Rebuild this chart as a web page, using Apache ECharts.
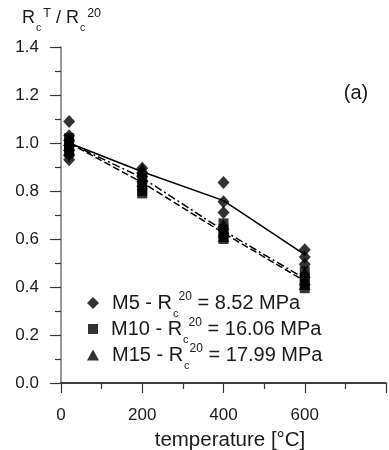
<!DOCTYPE html>
<html><head><meta charset="utf-8">
<script src="https://cdn.jsdelivr.net/npm/echarts@6/dist/echarts.min.js"></script>
<style>html,body{margin:0;padding:0;background:#fff}#c{width:389px;height:450px}</style>
</head><body><div id="c"></div>
<script>
const temperatures = [20, 200, 400, 600];
const m5Values = [[1.09, 1.03, 1.01, 0.99, 0.97, 0.95, 0.93], [0.895, 0.875, 0.86], [0.835, 0.755, 0.71], [0.555, 0.525, 0.495]];
const m10Values = [[1.02, 1.0, 0.98, 0.96], [0.85, 0.82, 0.80, 0.79], [0.665, 0.64, 0.62, 0.60], [0.465, 0.44, 0.415, 0.395]];
const m15Values = [[1.01, 0.99, 0.97], [0.895, 0.86, 0.84], [0.66, 0.63, 0.61], [0.46, 0.43, 0.41]];
const m5Mean = [1.0, 0.88, 0.76, 0.535];
const m10Mean = [1.0, 0.835, 0.625, 0.425];
const m15Mean = [1.0, 0.855, 0.635, 0.435];
const seriesNames = ['M5', 'M10', 'M15'];
const strengths = ['8.52', '16.06', '17.99'];
const xTickLabels = [0, 200, 400, 600];
const yTickLabels = ['0.0', '0.2', '0.4', '0.6', '0.8', '1.0', '1.2', '1.4'];

const FONT = 'Liberation Sans, Arial, sans-serif';
const TXT = '#1a1a1a';

function pts(values) {
  const out = [];
  values.forEach((arr, i) => arr.forEach(v => out.push([temperatures[i], v])));
  return out;
}
function line(means) { return means.map((v, i) => [temperatures[i], v]); }

const legendRich = {
  f: { fontSize: 20, fontFamily: FONT, color: TXT, lineHeight: 32, padding: [0, 0, 0, 8] },
  b: { fontSize: 20, fontFamily: FONT, color: TXT, lineHeight: 32 },
  sub: { fontSize: 11, fontFamily: FONT, color: TXT, verticalAlign: 'bottom', padding: [0, 0, 0, 1] },
  sup: { fontSize: 12, fontFamily: FONT, color: TXT, verticalAlign: 'top', padding: [4, 0, 0, 0] }
};
const icons = ['diamond', 'rect', 'triangle'];
const iconSize = [[12, 12], [10, 10], [12, 11]];
const legendTops = [286, 312, 338];

const chart = echarts.init(document.getElementById('c'));
chart.setOption({
  animation: false,
  backgroundColor: '#fff',
  grid: { left: 61, top: 47, right: -56, bottom: 67 },
  xAxis: [{
    type: 'value', min: 0, max: 800, interval: 200,
    axisLine: { show: true, onZero: false, lineStyle: { color: '#333', width: 1.5 } },
    axisTick: { show: true, length: 10, lineStyle: { color: '#333', width: 1.2 } },
    minorTick: { show: true, splitNumber: 2, length: 6, lineStyle: { color: '#333', width: 1.2 } },
    splitLine: { show: false },
    axisLabel: { margin: 24, fontSize: 17, fontFamily: FONT, color: TXT,
      formatter: v => xTickLabels.indexOf(v) >= 0 ? String(v) : '' }
  }, {
    type: 'value', min: 0, max: 800, position: 'top',
    axisLine: { show: true, lineStyle: { color: '#333', width: 1.5 } },
    axisTick: { show: false }, axisLabel: { show: false }, splitLine: { show: false }
  }],
  yAxis: {
    type: 'value', min: 0, max: 1.4, interval: 0.2,
    axisLine: { show: true, lineStyle: { color: '#777', width: 1.5 } },
    axisTick: { show: true, length: 11, lineStyle: { color: '#333', width: 1.2 } },
    minorTick: { show: true, splitNumber: 2, length: 6, lineStyle: { color: '#333', width: 1.2 } },
    splitLine: { show: false },
    axisLabel: { margin: 22, fontSize: 17, fontFamily: FONT, color: TXT,
      formatter: v => yTickLabels[Math.round(v / 0.2)] }
  },
  legend: seriesNames.map((n, i) => ({
    data: [n], left: 88 - iconSize[i][0] / 2, top: legendTops[i],
    orient: 'vertical', icon: icons[i],
    itemWidth: iconSize[i][0], itemHeight: iconSize[i][1],
    itemStyle: { color: '#000' },
    textStyle: { rich: legendRich, fontSize: 20, fontFamily: FONT },
    formatter: name => `{f|${name} - R}{sub|c}{sup|20}{b| = ${strengths[i]} MPa}`,
    selectedMode: false
  })),
  graphic: [
    { type: 'text', left: 22, top: 7, style: {
      text: '{b|R}{sub|c}{sup|T}{b| / R}{sub|c}{sup|20}',
      rich: {
        b: { fontSize: 18, fontFamily: FONT, fill: TXT, lineHeight: 32 },
        sub: { fontSize: 10.5, fontFamily: FONT, fill: TXT, verticalAlign: 'bottom', padding: [0, 1, 0, 1] },
        sup: { fontSize: 12.5, fontFamily: FONT, fill: TXT, verticalAlign: 'top', padding: [5, 0, 0, 1] }
      } } },
    { type: 'text', x: 356, y: 93, style: { text: '(a)', fontSize: 20, fontFamily: FONT, fill: TXT, align: 'center', verticalAlign: 'middle' } },
    { type: 'text', x: 230, y: 440, style: { text: 'temperature [°C]', fontSize: 20.5, fontFamily: FONT, fill: TXT, align: 'center', verticalAlign: 'middle' } }
  ],
  series: [
    { name: 'M5 mean', type: 'line', data: line(m5Mean), symbol: 'none', lineStyle: { color: '#000', width: 1.5, type: 'solid' }, z: 3 },
    { name: 'M10 mean', type: 'line', data: line(m10Mean), symbol: 'none', lineStyle: { color: '#000', width: 1.5, type: [7, 3] }, z: 3 },
    { name: 'M15 mean', type: 'line', data: line(m15Mean), symbol: 'none', lineStyle: { color: '#000', width: 1.5, type: [8, 3, 2, 3] }, z: 3 },
    { name: 'M5', type: 'scatter', data: pts(m5Values), symbol: 'diamond', symbolSize: [12, 13], itemStyle: { color: '#000' }, z: 4 },
    { name: 'M10', type: 'scatter', data: pts(m10Values), symbol: 'rect', symbolSize: 10, itemStyle: { color: '#000' }, z: 4 },
    { name: 'M15', type: 'scatter', data: pts(m15Values), symbol: 'triangle', symbolSize: [12, 11], itemStyle: { color: '#000' }, z: 4 }
  ]
});
</script></body></html>
